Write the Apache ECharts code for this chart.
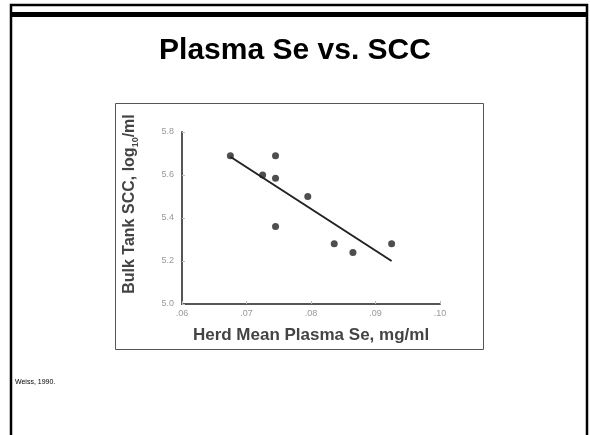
<!DOCTYPE html>
<html>
<head>
<meta charset="utf-8">
<style>
  html, body { margin: 0; padding: 0; background: #fff; }
  #chart { width: 590px; height: 435px; }
</style>
<script src="https://cdn.jsdelivr.net/npm/echarts@6/dist/echarts.min.js"></script>
</head>
<body>
<div id="chart"></div>
<script>
// herd mean plasma Se (mg/ml) vs bulk tank SCC (log10/ml)
const seValues = [0.0675, 0.0725, 0.0745, 0.0745, 0.0795, 0.0745, 0.0836, 0.0865, 0.0925];
const sccValues = [5.69, 5.60, 5.69, 5.585, 5.50, 5.36, 5.28, 5.24, 5.28];
// fitted line end points
const fitSe = [0.0675, 0.0925];
const fitScc = [5.685, 5.20];

const xTicks = [0.06, 0.07, 0.08, 0.09, 0.10];
const yTicks = [5.0, 5.2, 5.4, 5.6, 5.8];

const points = seValues.map((x, i) => [x, sccValues[i]]);
const fitLine = fitSe.map((x, i) => [x, fitScc[i]]);

const chart = echarts.init(document.getElementById("chart"));

const option = {
  backgroundColor: "#fff",
  animation: false,
  title: {
    text: "Plasma Se vs. SCC",
    left: "center",
    top: 31,
    textStyle: {
      fontFamily: "Liberation Sans",
      fontSize: 30,
      fontWeight: "bold",
      color: "#000"
    }
  },
  graphic: [
    // slide frame
    { type: "rect", shape: { x: 11, y: 5, width: 576, height: 440 }, style: { fill: "none", stroke: "#000", lineWidth: 2.5 }, silent: true },
    { type: "rect", shape: { x: 11, y: 12, width: 576, height: 5 }, style: { fill: "#000" }, silent: true },
    // figure box
    { type: "rect", shape: { x: 115.5, y: 103.5, width: 368, height: 246 }, style: { fill: "none", stroke: "#555", lineWidth: 1 }, silent: true },
    {
      type: "text",
      left: 15,
      top: 379,
      style: { text: "Weiss, 1990.", fontFamily: "Liberation Sans", fontSize: 7, fill: "#000" },
      silent: true
    }
  ],
  grid: {
    left: 182,
    right: 150,
    top: 132,
    bottom: 131
  },
  xAxis: {
    type: "value",
    min: xTicks[0],
    max: xTicks[xTicks.length - 1],
    interval: 0.01,
    name: "Herd Mean Plasma Se, mg/ml",
    nameLocation: "middle",
    nameGap: 23,
    nameTextStyle: {
      fontFamily: "Liberation Sans",
      fontSize: 17,
      fontWeight: "bold",
      color: "#444",
      verticalAlign: "top"
    },
    splitLine: { show: false },
    axisLine: { lineStyle: { color: "#555", width: 2 } },
    axisTick: { show: true, inside: true, length: 3, lineStyle: { color: "#bbb" } },
    axisLabel: {
      fontSize: 9,
      color: "#999",
      margin: 5,
      formatter: v => v.toFixed(2).replace("0.", ".")
    }
  },
  yAxis: {
    type: "value",
    min: yTicks[0],
    max: yTicks[yTicks.length - 1],
    interval: 0.2,
    name: "{b|Bulk Tank SCC, log}{s|10}{b|/ml}",
    nameLocation: "middle",
    nameGap: 44,
    nameRotate: 90,
    nameTextStyle: {
      padding: [0, 0, 0, 28],
      rich: {
        b: { fontFamily: "Liberation Sans", fontSize: 16, fontWeight: "bold", color: "#444", lineHeight: 20, verticalAlign: "bottom" },
        s: { fontFamily: "Liberation Sans", fontSize: 9, fontWeight: "bold", color: "#444", lineHeight: 20, verticalAlign: "bottom", padding: [0, 0, -2, 0] }
      }
    },
    splitLine: { show: false },
    axisLine: { show: true, lineStyle: { color: "#555", width: 2 } },
    axisTick: { show: true, inside: true, length: 3, lineStyle: { color: "#bbb" } },
    axisLabel: {
      fontSize: 9,
      color: "#999",
      margin: 8,
      formatter: v => v.toFixed(1)
    }
  },
  series: [
    {
      type: "line",
      data: fitLine,
      symbol: "none",
      lineStyle: { color: "#222", width: 2 },
      z: 2
    },
    {
      type: "scatter",
      data: points,
      symbolSize: 7,
      itemStyle: { color: "#222" },
      z: 3
    }
  ]
};

chart.setOption(option);
</script>
</body>
</html>
